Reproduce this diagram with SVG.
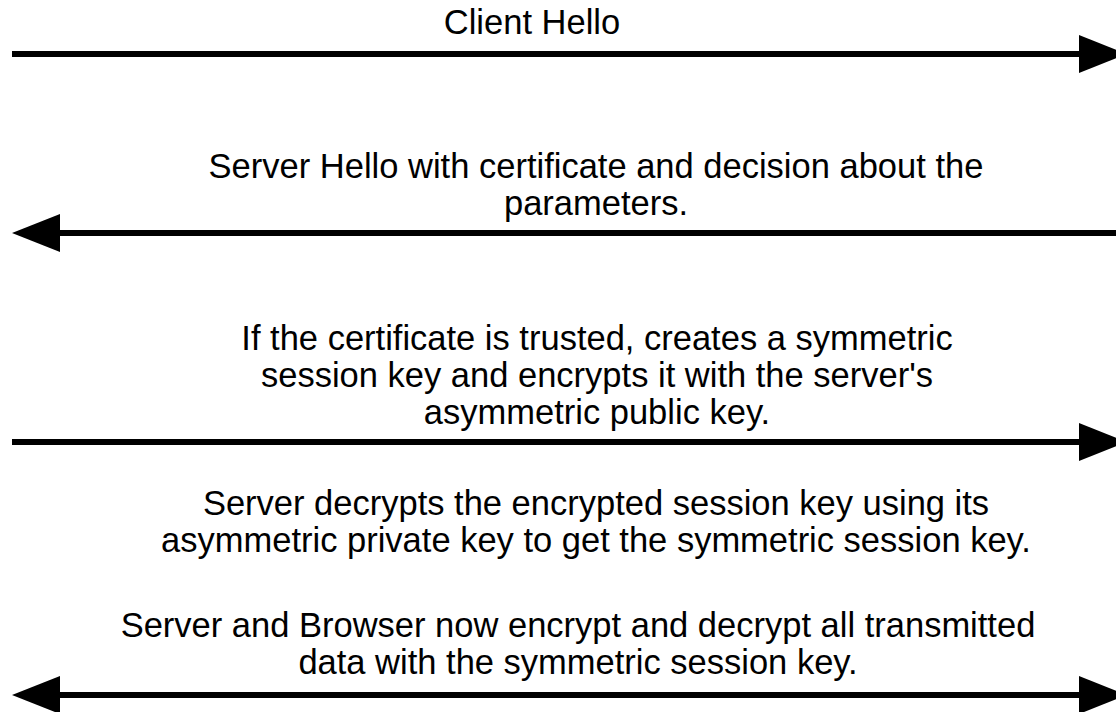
<svg xmlns="http://www.w3.org/2000/svg" width="1116" height="712" viewBox="0 0 1116 712">
  <style>
    .msg { font-family: "Liberation Sans", Arial, Helvetica, sans-serif; font-size: 34.5px; fill: #000; text-anchor: middle; }
    .wire { stroke: #000; stroke-width: 6; fill: none; }
  </style>
  <defs>
    <!-- solid triangular arrowhead, base sits at the line end -->
    <marker id="head" markerUnits="userSpaceOnUse" markerWidth="48" markerHeight="38" refX="0" refY="19" orient="auto-start-reverse" viewBox="0 0 48 38">
      <path d="M0,0 L48,19 L0,38 Z" fill="#000"/>
    </marker>
  </defs>
  <rect width="1116" height="712" fill="#fff"/>

  <g id="labels">
    <g id="client-hello">
      <text class="msg" x="532" y="34">Client Hello</text>
    </g>
    <g id="server-hello">
      <text class="msg" x="596" y="178">Server Hello with certificate and decision about the</text>
      <text class="msg" x="596" y="215">parameters.</text>
    </g>
    <g id="key-exchange">
      <text class="msg" x="597" y="350">If the certificate is trusted, creates a symmetric</text>
      <text class="msg" x="597" y="387">session key and encrypts it with the server's</text>
      <text class="msg" x="597" y="424">asymmetric public key.</text>
    </g>
    <g id="server-decrypt">
      <text class="msg" x="596" y="515">Server decrypts the encrypted session key using its</text>
      <text class="msg" x="596" y="552">asymmetric private key to get the symmetric session key.</text>
    </g>
    <g id="session">
      <text class="msg" x="578" y="637">Server and Browser now encrypt and decrypt all transmitted</text>
      <text class="msg" x="578" y="674">data with the symmetric session key.</text>
    </g>
  </g>

  <g id="connectors">
    <line class="wire" x1="12" y1="54" x2="1079" y2="54" marker-end="url(#head)"/>
    <line class="wire" x1="1116" y1="233" x2="60" y2="233" marker-end="url(#head)"/>
    <line class="wire" x1="12" y1="442" x2="1079" y2="442" marker-end="url(#head)"/>
    <line class="wire" x1="60" y1="695" x2="1079" y2="695" marker-start="url(#head)" marker-end="url(#head)"/>
  </g>
</svg>
